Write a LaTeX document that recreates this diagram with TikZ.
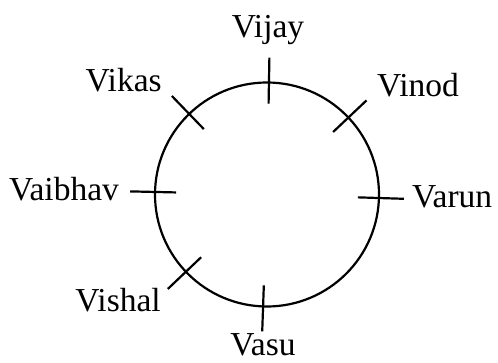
\documentclass[tikz,border=0pt]{standalone}
\usepackage{fontspec}
\setmainfont{Liberation Serif}
\begin{document}
\begin{tikzpicture}[x=1pt,y=1pt,
  ring/.style={draw=black, line width=2.2pt},
  tick/.style={draw=black, line width=2.2pt},
  lbl/.style={inner sep=0pt, anchor=base, text=black, font=\fontsize{33.5}{40}\selectfont}]
\useasboundingbox (0,0) rectangle (498,362);
\begin{scope}[shift={(267,167.5)}]
  \node[ring, circle, minimum size=224pt, inner sep=0pt] (c) at (0,0) {};
  \foreach \a/\n in {89/vijay, 43.4/vinod, -1.8/varun, 268/vasu, 223.6/vishal, 178.7/vaibhav, 134/vikas}{
    \coordinate (o-\n) at (\a:137);
    \coordinate (i-\n) at (\a:91);
    \draw[tick] (o-\n) -- (i-\n);
  }
\end{scope}
\node[lbl] (Vijay) at (268,324.7) {Vijay};
\node[lbl] (Vikas) at (123.6,270.3) {Vikas};
\node[lbl] (Vinod) at (418,265.3) {Vinod};
\node[lbl] (Vaibhav) at (64,161.3) {Vaibhav};
\node[lbl, anchor=base west] (Varun) at (412,154.3) {Varun};
\node[lbl] (Vishal) at (118,51) {Vishal};
\node[lbl] (Vasu) at (263,6.5) {Vasu};
\end{tikzpicture}
\end{document}
